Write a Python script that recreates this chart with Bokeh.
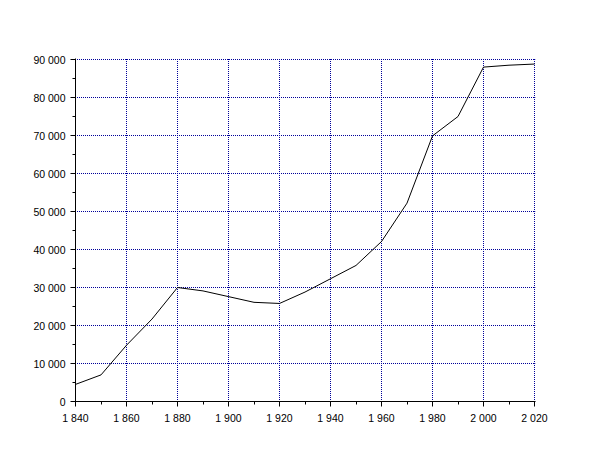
from bokeh.plotting import figure
from bokeh.models import Range1d, SingleIntervalTicker, CustomJSTickFormatter
from bokeh.embed import file_html
from bokeh.resources import INLINE

years = [1840, 1850, 1860, 1870, 1880, 1890, 1900, 1910, 1920, 1930,
         1940, 1950, 1960, 1970, 1980, 1990, 2000, 2010, 2020]
population = [4500, 7000, 14800, 21700, 30000, 29100, 27600, 26100, 25800, 28800,
              32300, 35800, 42100, 52200, 69900, 75000, 88000, 88500, 88800]

x_ticks = [1840, 1860, 1880, 1900, 1920, 1940, 1960, 1980, 2000, 2020]
y_ticks = [0, 10000, 20000, 30000, 40000, 50000, 60000, 70000, 80000, 90000]

# pixel-exact scales so the dotted grid lands on whole pixels
PX_X = 51 / 20.0      # px per year
PX_Y = 38 / 10000.0   # px per inhabitant
FRAME_W, FRAME_H = 460, 343
x_lo, y_lo = 1840, 0
xr = Range1d(x_lo, x_lo + FRAME_W / PX_X)
yr = Range1d(y_lo, y_lo + FRAME_H / PX_Y)

LEFT, TOP = 75, 58
W, H = 594, 444
p = figure(width=W, height=H, output_backend="svg", toolbar_location=None,
           x_range=xr, y_range=yr,
           min_border_left=LEFT, min_border_right=W - LEFT - FRAME_W,
           min_border_top=TOP, min_border_bottom=H - TOP - FRAME_H,
           background_fill_color="white", border_fill_color="white")
p.outline_line_color = None
p.xgrid.visible = False
p.ygrid.visible = False

fmt = CustomJSTickFormatter(code="return tick.toFixed(0).replace(/\\B(?=(\\d{3})+(?!\\d))/g, ' ');")

p.xaxis.ticker = SingleIntervalTicker(interval=20, num_minor_ticks=2)
p.yaxis.ticker = SingleIntervalTicker(interval=10000, num_minor_ticks=2)
for ax in (p.xaxis[0], p.yaxis[0]):
    ax.formatter = fmt
    ax.axis_line_color = "black"
    ax.axis_line_width = 1
    ax.major_tick_line_color = "black"
    ax.minor_tick_line_color = "black"
    ax.major_tick_in = 0
    ax.major_tick_out = 5
    ax.minor_tick_in = 0
    ax.minor_tick_out = 3
    ax.major_label_text_font = "Liberation Sans"
    ax.major_label_text_font_size = "10.5px"
    ax.major_label_text_color = "black"
    ax.major_label_standoff = 5

grid_color = "#000099"
gx0 = x_lo - 0.5 / PX_X   # half-pixel start keeps the dot phase aligned
gy0 = y_lo - 0.5 / PX_Y
p.segment(x0=x_ticks, x1=x_ticks, y0=[gy0] * len(x_ticks), y1=[yr.end] * len(x_ticks),
          line_color=grid_color, line_dash="1 1", line_width=1)
p.segment(x0=[gx0] * len(y_ticks), x1=[xr.end] * len(y_ticks), y0=y_ticks, y1=y_ticks,
          line_color=grid_color, line_dash="1 1", line_width=1)

p.line(years, population, line_color="black", line_width=1)

open("out.html", "w").write(file_html(p, INLINE))
